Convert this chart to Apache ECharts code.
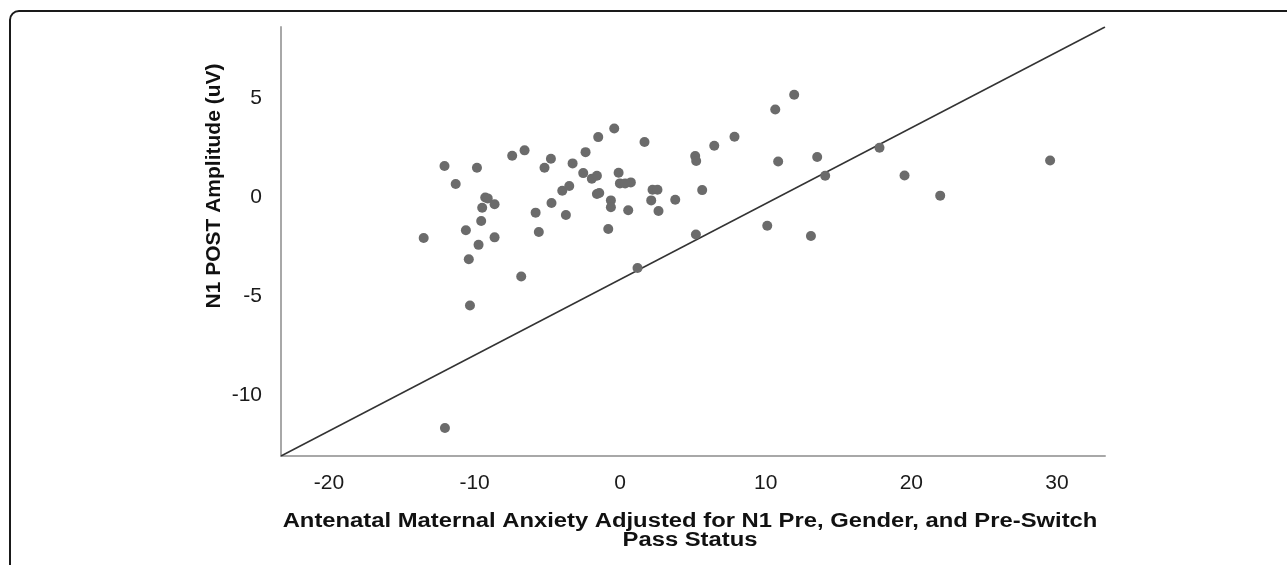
<!DOCTYPE html>
<html>
<head>
<meta charset="utf-8">
<script src="https://cdn.jsdelivr.net/npm/echarts@6/dist/echarts.min.js"></script>
<style>
html,body{margin:0;padding:0;background:#fff;}
#chart{width:1287px;height:565px;}
</style>
</head>
<body>
<div id="chart"></div>
<script>
// Scatter points (x = adjusted antenatal maternal anxiety, y = N1 POST amplitude)
var pointsX = [-13.5,-12.07,-11.3,-9.84,-9.27,-9.1,-8.63,-9.48,-9.55,-10.6,-9.73,-8.63,-10.4,-7.42,-6.57,-5.2,-4.76,-5.81,-5.59,-4.72,-3.98,-3.5,-3.73,-3.27,-2.38,-2.54,-1.95,-1.6,-1.51,-0.41,-1.6,-1.44,-0.64,-0.64,-0.82,-0.11,-0.02,0.34,0.73,0.55,1.67,2.22,2.56,2.13,2.63,3.78,-6.8,-10.32,-12.04,5.63,5.2,1.19,5.15,5.22,6.46,7.85,10.65,11.95,10.85,13.53,14.08,17.81,10.1,13.1,19.53,21.98,29.53];
var pointsY = [-2.07,1.57,0.66,1.48,-0.02,-0.07,-0.37,-0.54,-1.21,-1.68,-2.42,-2.04,-3.15,2.09,2.36,1.48,1.94,-0.79,-1.77,-0.3,0.32,0.56,-0.91,1.7,2.27,1.21,0.93,1.08,3.03,3.47,0.15,0.2,-0.17,-0.52,-1.62,1.23,0.69,0.69,0.74,-0.67,2.78,0.37,0.37,-0.17,-0.71,-0.14,-4.02,-5.49,-11.68,0.35,-1.9,-3.59,2.07,1.82,2.59,3.05,4.43,5.17,1.8,2.02,1.08,2.49,-1.45,-1.97,1.09,0.07,1.85];
// Reference line endpoints
var lineX = [-23.3, 33.3];
var lineY = [-13.1, 8.6];
// Axis tick labels
var xTicks = [-20, -10, 0, 10, 20, 30];
var yTicks = [-10, -5, 0, 5];

var xName = 'Antenatal Maternal Anxiety Adjusted for N1 Pre, Gender, and Pre-Switch\nPass Status';
var yName = 'N1 POST Amplitude (uV)';

var scatterData = pointsX.map(function (x, i) { return [x, pointsY[i]]; });
var lineData = lineX.map(function (x, i) { return [x, lineY[i]]; });

var chart = echarts.init(document.getElementById('chart'), null, {renderer: 'canvas'});
var font = '"Liberation Sans", Arial, sans-serif';
chart.setOption({
  animation: false,
  backgroundColor: '#ffffff',
  grid: {left: 281, right: 182, top: 27, bottom: 109, containLabel: false},
  xAxis: {
    type: 'value',
    min: -23.3, max: 33.3,
    splitLine: {show: false},
    axisLine: {show: true, onZero: false, lineStyle: {color: '#a8a8a8', width: 2}},
    axisTick: {show: false, customValues: xTicks},
    axisLabel: {customValues: xTicks, color: '#1a1a1a', fontSize: 21, fontFamily: font, margin: 17}
  },
  yAxis: {
    type: 'value',
    min: -13.1, max: 8.6,
    splitLine: {show: false},
    axisLine: {show: true, onZero: false, lineStyle: {color: '#a8a8a8', width: 2}},
    axisTick: {show: false, customValues: yTicks},
    axisLabel: {customValues: yTicks, color: '#1a1a1a', fontSize: 21, fontFamily: font, margin: 19}
  },
  graphic: [
    {type: 'rect', shape: {x: 10, y: 11, width: 1400, height: 700, r: 9}, style: {fill: 'none', stroke: '#1a1a1a', lineWidth: 2}, silent: true, z: 100},
    {type: 'text', x: 214, y: 186, rotation: Math.PI / 2,
     style: {text: yName, fontSize: 21, fontWeight: 'bold', fill: '#111', fontFamily: font, align: 'center', verticalAlign: 'middle'}},
    {type: 'text', x: 690, y: 512, scaleX: 1.19,
     style: {text: xName, fontSize: 20, lineHeight: 19, fontWeight: 'bold', fill: '#111', fontFamily: font, align: 'center', verticalAlign: 'top'}}
  ],
  series: [
    {type: 'line', data: lineData, symbol: 'none', lineStyle: {color: '#333333', width: 1.5}, z: 2, silent: true},
    {type: 'scatter', data: scatterData, symbolSize: 10, itemStyle: {color: '#6b6b6b', opacity: 1}, z: 3}
  ]
});
</script>
</body>
</html>
